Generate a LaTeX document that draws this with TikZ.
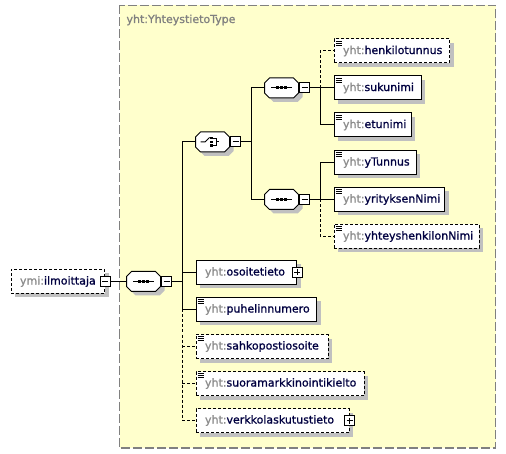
\documentclass[tikz,border=0pt]{standalone}
\usepackage{fontspec}
\setmainfont{DejaVu Sans}[BoldFont=DejaVu Sans, BoldFeatures={FakeBold=0.9}]
\usetikzlibrary{shadows,calc}
\definecolor{bgy}{HTML}{FFFFCC}
\definecolor{pfx}{HTML}{8C8C8C}
\definecolor{nm}{HTML}{000040}
\definecolor{shdc}{HTML}{C0C0C0}
\definecolor{frm}{HTML}{808080}
\newcommand\px[1]{\textcolor{pfx}{#1}}
\newcommand\lsticon[1]{%
  \foreach \d in {2.5,4.5,6.5}{\draw[line width=0.9pt] ([xshift=2pt,yshift=-\d pt]#1.north west) -- ++(6pt,0pt);}}
\newcommand\octo[4]{% name, cx, cy, kind
  \node[inner sep=0pt, minimum width=34pt, minimum height=20pt] (#1) at (#2,#3) {};
  \begin{scope}[shift={(#2,#3)}]
    \fill[shdc, shift={(4,4)}] (-12,-10) -- (12,-10) -- (17,-5) -- (17,5) -- (12,10) -- (-12,10) -- (-17,5) -- (-17,-5) -- cycle;
    \filldraw[fill=white] (-12,-10) -- (12,-10) -- (17,-5) -- (17,5) -- (12,10) -- (-12,10) -- (-17,5) -- (-17,-5) -- cycle;
    \ifx#4s
      \draw (-10.5,0) -- (10.5,0);
      \fill (-5.5,-1.5) rectangle (-2.5,1.5);
      \fill (-1.5,-1.5) rectangle (1.5,1.5);
      \fill (2.5,-1.5) rectangle (5.5,1.5);
    \else
      \draw (-12,0) -- (-7.5,0) -- (-3,-4.5);
      \fill (-2.5,-5) rectangle (0,-2.5);
      \fill (-2.5,-1.25) rectangle (0,1.25);
      \fill (-2.5,2.5) rectangle (0,5);
      \draw (0,-3.75) -- (3.5,-3.75) -- (3.5,3.75) -- (0,3.75);
      \draw (3.5,0) -- (6.5,0);
    \fi
  \end{scope}
  \node[mbox, anchor=west] (#1m) at (#1.east) {};
}
\begin{document}
\begin{tikzpicture}[x=1pt,y=-1pt, line width=1pt, font=\fontsize{11}{13}\selectfont\bfseries,
  shd/.style={drop shadow={shadow xshift=4pt,shadow yshift=-4pt,fill=shdc,opacity=1}},
  elem/.style={draw, fill=white, shd, minimum height=24pt, inner xsep=9pt, inner ysep=0pt,
    align=left, anchor=west, text=nm, text width=#1},
  opt/.style={dash pattern=on 3pt off 2pt},
  oelem/.style={elem=#1, opt},
  mbox/.style={draw, fill=white, minimum size=10pt, inner sep=0pt, line width=1pt,
    path picture={\draw[line width=1pt] ([xshift=2pt]path picture bounding box.west) -- ([xshift=-2pt]path picture bounding box.east);}},
  pbox/.style={mbox, path picture={\draw[line width=1pt] ([xshift=2pt]path picture bounding box.west) -- ([xshift=-2pt]path picture bounding box.east);
    \draw[line width=1pt] ([yshift=-2pt]path picture bounding box.north) -- ([yshift=2pt]path picture bounding box.south);}}
]
\useasboundingbox (0,0) rectangle (506,454);
% container type
\draw[fill=bgy, draw=frm, line width=1.3pt, dash pattern=on 9pt off 3pt] (119.5,5.5) rectangle (495.5,448);
\node[anchor=base west, text=frm, inner sep=0pt] (title) at (126,23) {yht:YhteystietoType};

% root element
\node[oelem=75.5pt] (ilm) at (10.5,281.5) {\px{ymi:}ilmoittaja};
\node[mbox] (ilmm) at (ilm.east) {};

% compositors
\octo{seq0}{143.5}{281.5}{s}
\octo{ch}{212.5}{142}{c}
\octo{seqA}{281.5}{88}{s}
\octo{seqB}{281.5}{199.5}{s}

% upper group
\node[oelem=97.5pt] (henk) at (333.5,51) {\px{yht:}henkilotunnus};
\node[elem=69pt] (suku) at (333.5,88) {\px{yht:}sukunimi};
\node[elem=59pt] (etu) at (333.5,125) {\px{yht:}etunimi};
% lower group
\node[elem=64pt] (ytun) at (333.5,162.5) {\px{yht:}yTunnus};
\node[elem=92.5pt] (yrit) at (333.5,199.5) {\px{yht:}yrityksenNimi};
\node[oelem=127pt] (yhte) at (333.5,236.5) {\px{yht:}yhteyshenkilonNimi};
% main sequence children
\node[elem=82.5pt] (oso) at (195.5,272.5) {\px{yht:}osoitetieto};
\node[pbox] (osop) at (oso.east) {};
\node[elem=102.5pt] (puh) at (195.5,309.5) {\px{yht:}puhelinnumero};
\node[oelem=114pt] (sah) at (195.5,346.5) {\px{yht:}sahkopostiosoite};
\node[oelem=150pt] (suo) at (195.5,383.5) {\px{yht:}suoramarkkinointikielto};
\node[oelem=135pt] (ver) at (195.5,420.5) {\px{yht:}verkkolaskutustieto};
\node[pbox] (verp) at (ver.east) {};

\foreach \n in {henk,suku,etu,ytun,yrit,yhte,puh,sah,suo}{\lsticon{\n}}

% connectors
\draw (ilmm.east) -- (seq0.west);
\draw (seq0m.east) -- ++(10,0) coordinate (T0);
\draw (T0) |- (ch.west);
\draw (T0) |- (oso.west);
\draw (T0) |- (puh.west);
\draw[opt] (T0 |- puh.west) -- (T0 |- ver.west);
\draw[opt] (T0 |- sah.west) -- (sah.west);
\draw[opt] (T0 |- suo.west) -- (suo.west);
\draw[opt] (T0 |- ver.west) -- (ver.west);

\draw (chm.east) -- ++(10,0) coordinate (T1);
\draw (T1) |- (seqA.west);
\draw (T1) |- (seqB.west);

\draw (seqAm.east) -- ++(10,0) coordinate (T2);
\draw[opt] (T2) |- (henk.west);
\draw (T2) -- (suku.west);
\draw (T2) |- (etu.west);

\draw (seqBm.east) -- ++(10,0) coordinate (T3);
\draw (T3) |- (ytun.west);
\draw (T3) -- (yrit.west);
\draw[opt] (T3) |- (yhte.west);
\end{tikzpicture}
\end{document}
